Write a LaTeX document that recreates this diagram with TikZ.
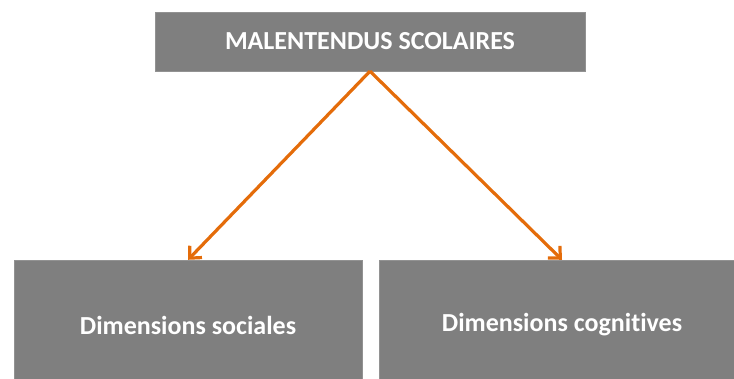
\documentclass[tikz,border=0pt]{standalone}
\usepackage{fontspec}
\setmainfont{Carlito}[Ligatures=NoCommon]
\usetikzlibrary{arrows.meta}
\definecolor{boxgray}{RGB}{127,127,127}
\definecolor{arroworange}{RGB}{228,108,10}
\begin{document}
\begin{tikzpicture}[x=1pt,y=-1pt,
                    bloc/.style={fill=boxgray, draw=boxgray!85, text=white, inner sep=0pt,
                                 font=\fontsize{26}{30}\selectfont\bfseries},
                    fleche/.style={draw=arroworange, line width=3.2pt,
                                   -{Straight Barb[length=9pt,width=17pt]}}]
                      \useasboundingbox (0,0) rectangle (734,378);
                      \node[bloc, minimum width=430pt, minimum height=59pt] (malent) at (370,41.5) {MALENTENDUS SCOLAIRES};
                      \node[bloc, minimum width=348.5pt, minimum height=130pt] (sociales) at (188,325) {Dimensions sociales};
                      \node[bloc, minimum width=366pt, minimum height=130pt] (cognitives) at (562,325) {Dimensions cognitives};

                      \draw[fleche] (malent.south) -- (sociales.north);
                      \draw[fleche] (malent.south) -- (cognitives.north);
                  \end{tikzpicture}
\end{document}
